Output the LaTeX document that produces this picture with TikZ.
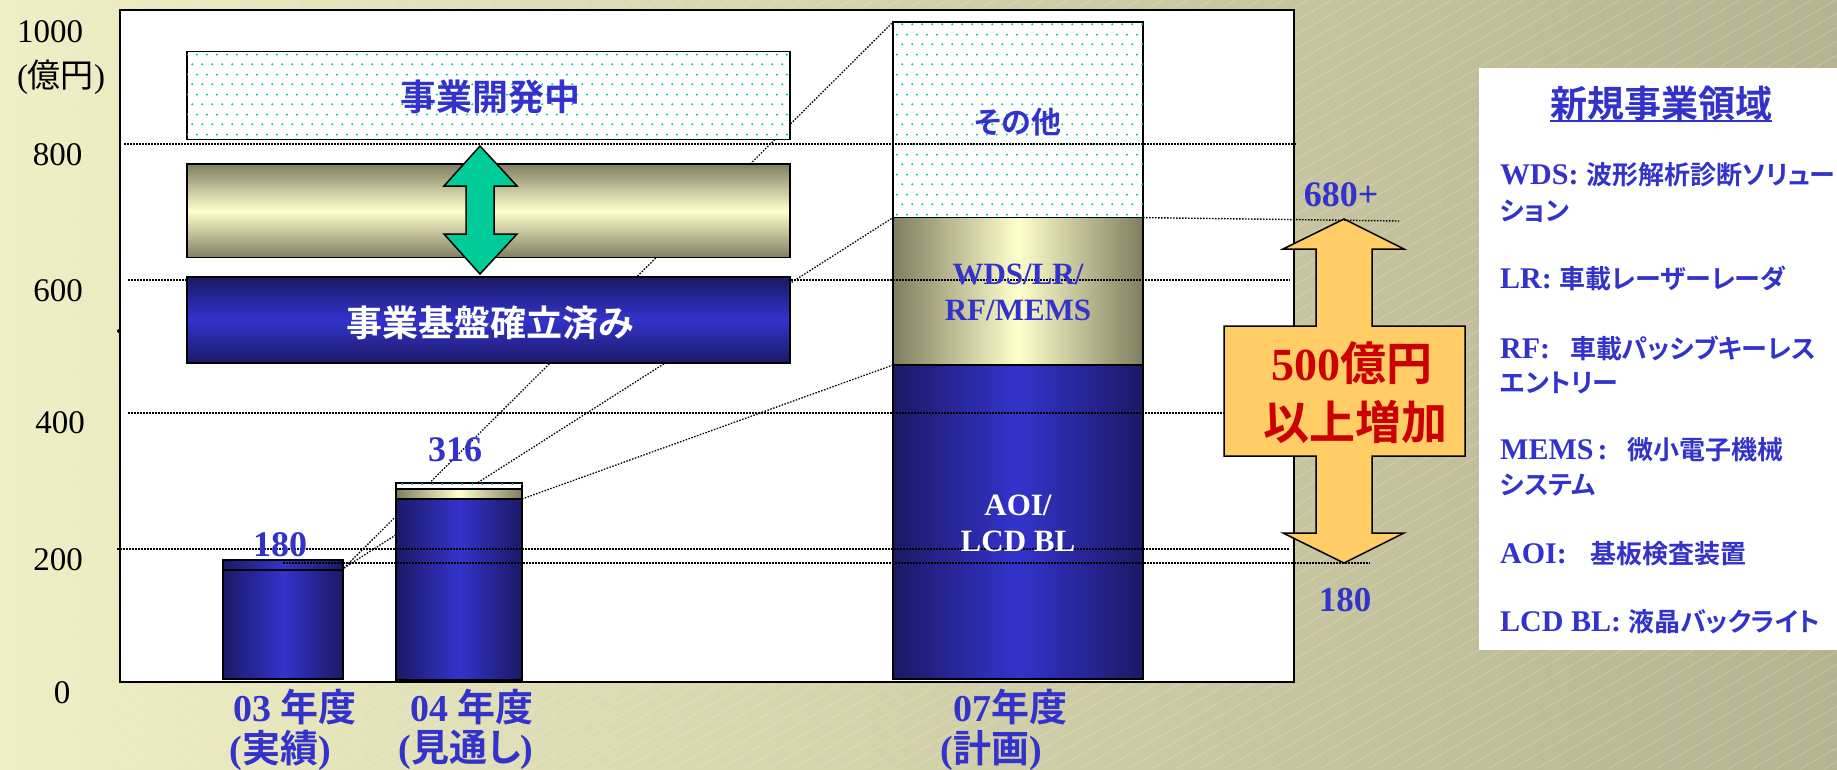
\documentclass[tikz,border=0pt]{standalone}
\usepackage{fontspec}
\setmainfont{Liberation Serif}
\newfontfamily\jpfont{Noto Sans CJK JP Bold}[RawFeature=+palt]
\newfontfamily\jpthin{Noto Sans CJK JP}
\usepackage{tikz}
\usetikzlibrary{patterns.meta}

\definecolor{txtblue}{RGB}{51,51,204}
\definecolor{navyD}{RGB}{26,26,102}
\definecolor{navyB}{RGB}{51,51,204}
\definecolor{khakiD}{RGB}{128,126,96}
\definecolor{khakiL}{RGB}{255,255,204}
\definecolor{dotteal}{RGB}{0,204,153}
\definecolor{arrgreen}{RGB}{0,204,153}
\definecolor{arrorange}{RGB}{255,204,102}
\definecolor{txtred}{RGB}{204,0,0}
\definecolor{bgL}{RGB}{240,238,196}
\definecolor{bgR}{RGB}{182,180,144}

\newcommand\jt[1]{{\jpfont\mdseries #1}}
\newcommand\jts[1]{{\jpfont\mdseries\fontsize{26}{28}\selectfont #1}}

\tikzdeclarepattern{
  name=tealdots,
  type=uncolored,
  bounding box={(0pt,0pt) and (10pt,20pt)},
  tile size={(10pt,20pt)},
  code={
    \pgfpathcircle{\pgfpoint{2.5pt}{5pt}}{1.2pt}
    \pgfpathcircle{\pgfpoint{7.5pt}{15pt}}{1.2pt}
    \pgfusepath{fill}
  }
}

\begin{document}
\begin{tikzpicture}[x=1pt,y=1pt,yscale=-1,xscale=1,
  bg hatch/.style={white, opacity=0.3, line width=0.5pt},
  grid line/.style={line width=1.4pt, dash pattern=on 1.5pt off 1.5pt},
  lead line/.style={line width=1.3pt, dash pattern=on 1.5pt off 1.5pt},
  navy bar/.style={draw=black, line width=1.5pt, left color=navyD, right color=navyD, middle color=navyB},
  khaki bar/.style={draw=black, line width=1.5pt, left color=khakiD, right color=khakiD, middle color=khakiL},
  navy box/.style={draw=black, line width=1.5pt, top color=navyD, bottom color=navyD, middle color=navyB},
  khaki box/.style={draw=black, line width=1.5pt, top color=khakiD, bottom color=khakiD, middle color=khakiL},
  dot bar/.style={draw=black, line width=1.5pt, fill=white, postaction={pattern=tealdots, pattern color=dotteal}},
  axis lab/.style={inner sep=0pt, font=\fontsize{33}{36}\selectfont},
  val lab/.style={inner sep=0pt, text=txtblue, font=\fontsize{36}{40}\selectfont\bfseries},
  year lab/.style={inner sep=0pt, text=txtblue, font=\fontsize{38}{42}\selectfont\bfseries},
  seg lab/.style={inner sep=0pt, font=\fontsize{31}{34}\selectfont\bfseries},
  box lab/.style={inner sep=0pt, font=\fontsize{36}{40}\selectfont\jpfont},
  big lab/.style={inner sep=0pt, text=txtred, font=\fontsize{46}{50}\selectfont\bfseries},
  legend lab/.style={inner sep=0pt, anchor=west, text=txtblue, font=\fontsize{30}{32}\selectfont\bfseries}]
\useasboundingbox (0,0) rectangle (1837,769);

%Shape: Background
\shade[left color=bgL, right color=bgR] (0,0) rectangle (1837,769);
\begin{scope}
\clip (0,0) rectangle (1837,769);
\foreach \k in {-1344,-1320,...,1837} \draw[bg hatch] (\k,769) -- ++(1332,-769);
\end{scope}

%Shape: Plot frame
\draw[line width=1.5pt, fill=white] (120,10) rectangle (1294,682);
\fill (119,331) circle (2);

% Coordinates for leader lines
\coordinate (c03) at (344,568);
\coordinate (c04) at (522,499);
\coordinate (c07top) at (893,22);
\coordinate (c07mid) at (893,217.6);
\coordinate (c07low) at (893,365);
\coordinate (c07right) at (1143,217.6);
\coordinate (t680) at (1399,221);

%Straight Lines: leaders
\draw[lead line] (c03) -- (c07top);
\draw[lead line] (c03) -- (c07mid);
\draw[lead line] (c04) -- (c07low);

%Shape: Bar 03
\draw[navy bar] (223,570) rectangle (343,679);
\draw[navy bar] (223,560) rectangle (343,570);
%Shape: Bar 04
\draw[navy bar] (396,499) rectangle (522,680);
\draw[khaki bar] (396,489) rectangle (522,499);
\draw[dot bar] (396,483) rectangle (522,489);
%Shape: Bar 07
\draw[navy bar] (893,365) rectangle (1143,679);
\draw[khaki bar] (893,217.6) rectangle (1143,365);
\draw[dot bar] (893,22) rectangle (1143,217.6);

%Straight Lines: grid
\draw[grid line] (124,144) -- (1297,144);
\draw[grid line] (128,280) -- (1290,280);
\draw[grid line] (128,413) -- (1290,413);
\draw[grid line] (117,549) -- (1290,549);

%Shape: Left boxes
\draw[dot bar] (187,51.7) rectangle (790,139.5);
\draw[khaki box] (187,164) rectangle (790,257.6);
\draw[navy box] (187,277) rectangle (790,363);

%Shape: Green double arrow
\draw[line width=1.5pt, fill=arrgreen] (480,146) -- (517,186) -- (494,186) -- (494,234) -- (517,234) -- (480,274) -- (444,234) -- (466,234) -- (466,186) -- (444,186) -- cycle;

%Shape: Orange double arrow
\draw[line width=1.5pt, fill=arrorange] (1344,219) -- (1404,249) -- (1372,249) -- (1372,326) -- (1465,326) -- (1465,456) -- (1372,456) -- (1372,533) -- (1404,533) -- (1344,563) -- (1283,533) -- (1316,533) -- (1316,456) -- (1224,456) -- (1224,326) -- (1316,326) -- (1316,249) -- (1283,249) -- cycle;

%Straight Lines: 180 and 680 levels
\draw[grid line] (283,563) -- (1370,563);
\draw[grid line] (c07right) -- (t680);

%Shape: Legend panel
\fill[white] (1479,68) rectangle (1837,650);

% Text Node
\draw (50,32) node [axis lab] (yl1000) {1000};
% Text Node
\draw (61,77) node [axis lab] (ylunit) {(\jpthin 億円\rmfamily)};
% Text Node
\draw (57.5,155) node [axis lab] (yl800) {800};
% Text Node
\draw (58,291) node [axis lab] (yl600) {600};
% Text Node
\draw (60,423) node [axis lab] (yl400) {400};
% Text Node
\draw (58,560) node [axis lab] (yl200) {200};
% Text Node
\draw (62,693) node [axis lab] (yl0) {0};

% Text Node
\draw (280,545) node [val lab] (v03) {180};
% Text Node
\draw (455,450) node [val lab] (v04) {316};

% Text Node
\draw (295,707) node [year lab] (x03a) {03 \jt{年度}};
% Text Node
\draw (280,750) node [year lab] (x03b) {(\jt{実績})};
% Text Node
\draw (472,707) node [year lab] (x04a) {04 \jt{年度}};
% Text Node
\draw (466,750) node [year lab] (x04b) {(\jt{見通し})};
% Text Node
\draw (1010,707) node [year lab] (x07a) {07\jt{年度}};
% Text Node
\draw (991,750) node [year lab] (x07b) {(\jt{計画})};

% Text Node
\draw (490,97) node [box lab, text=txtblue] (bxdev) {事業開発中};
% Text Node
\draw (490,323) node [box lab, text=white] (bxbase) {事業基盤確立済み};

% Text Node
\draw (1018,122) node [inner sep=0pt, text=txtblue, font=\fontsize{30}{32}\selectfont\jpfont] (s07a) {その他};
% Text Node
\draw (1018,274) node [seg lab, text=txtblue] (s07b) {WDS/LR/};
% Text Node
\draw (1018,310) node [seg lab, text=txtblue] (s07c) {RF/MEMS};
% Text Node
\draw (1018,505) node [seg lab, text=white] (s07d) {AOI/};
% Text Node
\draw (1018,541) node [seg lab, text=white] (s07e) {LCD BL};

% Text Node
\draw (1341,195) node [inner sep=0pt, text=txtblue, font=\fontsize{36}{38}\selectfont\bfseries] (r680) {680+};
% Text Node
\draw (1345,600) node [inner sep=0pt, text=txtblue, font=\fontsize{35}{38}\selectfont\bfseries] (r180) {180};
% Text Node
\draw (1352,363) node [big lab] (inc1) {500\jt{億円}};
% Text Node
\draw (1355,422) node [big lab] (inc2) {\jt{以上増加}};

% Text Node
\draw (1661,103) node [inner sep=0pt, text=txtblue, font=\fontsize{37}{40}\selectfont\jpfont] (legT) {新規事業領域};
\draw[txtblue, line width=1.8pt] (legT.south west) -- (legT.south east);
% Text Node
\draw (1500,175) node [legend lab] (lg1) {WDS: \jts{波形解析診断ソリュー}};
\draw (1500,211) node [legend lab] (lg1b) {\jts{ション}};
% Text Node
\draw (1500,278) node [legend lab] (lg2) {LR: \jts{車載レーザーレーダ}};
% Text Node
\draw (1500,348) node [legend lab] (lg3) {RF:\hspace{20pt}\jts{車載パッシブキーレス}};
\draw (1500,383) node [legend lab] (lg3b) {\jts{エントリー}};
% Text Node
\draw (1500,450) node [legend lab] (lg4) {MEMS\hspace{4pt}:\hspace{20pt}\jts{微小電子機械}};
\draw (1500,485) node [legend lab] (lg4b) {\jts{システム}};
% Text Node
\draw (1500,554) node [legend lab] (lg5) {AOI:\hspace{24pt}\jts{基板検査装置}};
% Text Node
\draw (1500,622) node [legend lab] (lg6) {LCD BL: \jts{液晶バックライト}};

\end{tikzpicture}
\end{document}
